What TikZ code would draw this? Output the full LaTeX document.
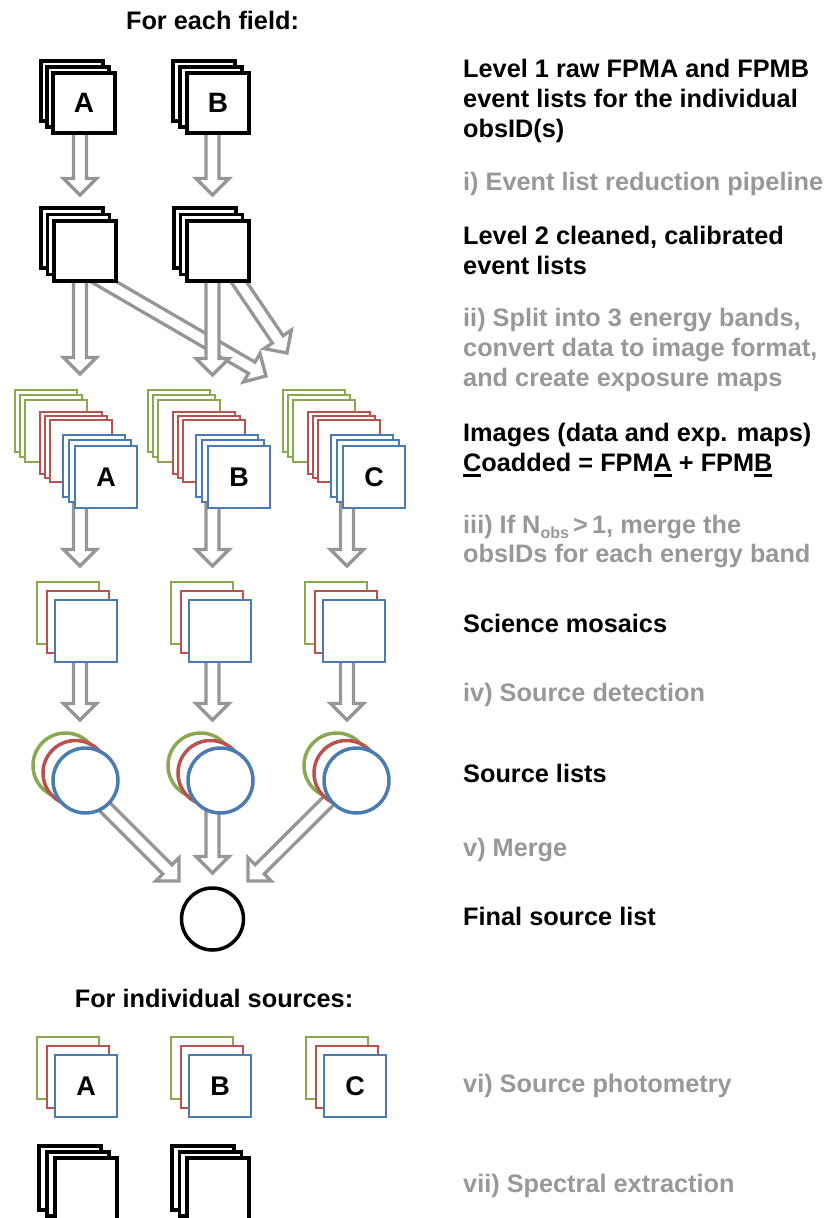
\documentclass[tikz,border=0pt]{standalone}
\usepackage{fontspec}
\setmainfont{Liberation Sans}
\usetikzlibrary{calc,backgrounds}
\definecolor{agray}{RGB}{150,150,150}
\definecolor{tgray}{RGB}{152,152,152}
\definecolor{cgreen}{RGB}{139,168,80}
\definecolor{cred}{RGB}{184,82,78}
\definecolor{cblue}{RGB}{74,124,178}
\newcommand\myul[1]{\setbox0\hbox{#1}\rlap{\rule[-5pt]{\wd0}{2.5pt}}\box0\relax}
\tikzset{
  harr/.style={draw=agray, fill=white, line width=3.3pt, line join=miter, miter limit=10},
  bk/.style={draw=black, fill=white, line width=3.2pt},
  bkfront/.style={bk, rectangle, minimum width=62pt, minimum height=#1, inner sep=0pt, outer sep=0pt,
    font=\bfseries\fontsize{28}{28}\selectfont},
  cs/.style={fill=white, line width=2.8pt},
  csfront/.style={cs, draw=cblue, rectangle, minimum width=62pt, minimum height=62pt, inner sep=0pt, outer sep=0pt,
    font=\bfseries\fontsize{27}{27}\selectfont},
  cc/.style={fill=white, line width=3.5pt},
  ccfront/.style={cc, draw=cblue, circle, minimum size=65pt, inner sep=0pt, outer sep=0pt},
  hd/.style={anchor=base west, inner sep=0pt, font=\bfseries\fontsize{25.3}{30}\selectfont},
  st/.style={hd, text=tgray},
  ttl/.style={anchor=base, inner sep=0pt, font=\bfseries\fontsize{25.3}{30}\selectfont}
}
% hollow arrow from #1 to #2
\newcommand\harrow[2]{%
  \coordinate (hb) at ($(#2)!16.5pt!(#1)$);
  \draw[harr] ($(#1)!6.5pt!90:(#2)$) -- ($(hb)!6.5pt!90:(#2)$) -- ($(hb)!16.5pt!90:(#2)$) -- (#2)
    -- ($(hb)!16.5pt!-90:(#2)$) -- ($(hb)!6.5pt!-90:(#2)$) -- ($(#1)!6.5pt!-90:(#2)$);
}
% black stack: name, front x, front y, label, dx, dy, height
\newcommand\bstack[7]{%
  \draw[bk] (#2-2*#5,#3-2*#6) rectangle ++(62,#7);
  \draw[bk] (#2-#5,#3-#6) rectangle ++(62,#7);
  \node[bkfront=#7pt] (#1) at (#2+31,#3+#7/2) {#4};
}
% image stack (9 squares): name, x0, y0, label
\newcommand\istack[4]{%
  \foreach \dx/\dy/\c in {0/0/cgreen,5/5/cgreen,10/10/cgreen,25/22/cred,30/26/cred,35/30/cred,48/45/cblue,54/50/cblue}
    {\draw[cs,draw=\c] (#2+\dx,#3+\dy) rectangle ++(62,62);}
  \node[csfront] (#1) at (#2+60+31,#3+56+31) {#4};
}
% mosaic stack (3 squares): name, x0, y0, label
\newcommand\mstack[4]{%
  \draw[cs,draw=cgreen] (#2,#3) rectangle ++(62,62);
  \draw[cs,draw=cred] (#2+10,#3+9) rectangle ++(62,62);
  \node[csfront] (#1) at (#2+18+31,#3+18+31) {#4};
}
% circle stack: name, cx, cy
\newcommand\cstack[3]{%
  \draw[cc,draw=cgreen] (#2-20,#3-15) circle[radius=32.5];
  \draw[cc,draw=cred] (#2-10,#3-7.5) circle[radius=32.5];
  \node[ccfront] (#1) at (#2,#3) {};
}
\begin{document}
\begin{tikzpicture}[x=1pt,y=-1pt]
\useasboundingbox (0,0) rectangle (830,1218);

% ---------- stacks ----------
\bstack{L1A}{53}{73}{A}{6}{6}{60}
\bstack{L1B}{187}{73}{B}{7}{6}{60}
\bstack{L2A}{54}{221}{}{6.5}{6.5}{60}
\bstack{L2B}{187}{221}{}{6.5}{6.5}{60}
\istack{IA}{15}{390}{A}
\istack{IB}{148}{390}{B}
\istack{IC}{283}{390}{C}
\mstack{MA}{37}{582}{}
\mstack{MB}{171}{582}{}
\mstack{MC}{305}{582}{}
\cstack{CA}{85.5}{780.5}
\cstack{CB}{220.5}{780.5}
\cstack{CC}{356.5}{780.5}
\node[cc, draw=black, circle, minimum size=62pt, inner sep=0pt] (F) at (212.5,919) {};
\mstack{PA}{37}{1037}{A}
\mstack{PB}{171}{1037}{B}
\mstack{PC}{306}{1037}{C}
\bstack{SA}{55}{1158}{}{8}{6}{64}
\bstack{SB}{187}{1158}{}{7.5}{6}{64}

% ---------- connectors ----------
\coordinate (colA) at (80,0);
\coordinate (colB) at (212.5,0);
\coordinate (colC) at (347,0);
\coordinate (t1A) at (80,195);
\coordinate (t1B) at (212.5,195);
\coordinate (dA) at ($(L2A.center)+(2,21)$);
\coordinate (dB) at ($(L2B.center)+(10,15)$);
\coordinate (t2DA) at (266,376);
\coordinate (t2DB) at (287,353);
\coordinate (t2A) at (80,374);
\coordinate (t2B) at (212.5,375);
\coordinate (t3A) at (80,566);
\coordinate (t3B) at (212.5,566);
\coordinate (t3C) at (347,566);
\coordinate (t4A) at (80,720);
\coordinate (t4B) at (212.5,720);
\coordinate (t4C) at (347,720);
\coordinate (cAs) at ($(CA.center)+(-0.5,6.5)$);
\coordinate (cCs) at ($(CC.center)+(-4.5,-3)$);
\coordinate (t5A) at (179,881);
\coordinate (t5B) at (212.5,873);
\coordinate (t5C) at (248,881);
\begin{scope}[on background layer]
  \harrow{colA |- L1A.center}{t1A}
  \harrow{colB |- L1B.center}{t1B}
  \harrow{dA}{t2DA}
  \harrow{dB}{t2DB}
  \harrow{colA |- L2A.center}{t2A}
  \harrow{colB |- L2B.center}{t2B}
  \harrow{colA |- IA.center}{t3A}
  \harrow{colB |- IB.center}{t3B}
  \harrow{colC |- IC.center}{t3C}
  \harrow{colA |- MA.center}{t4A}
  \harrow{colB |- MB.center}{t4B}
  \harrow{colC |- MC.center}{t4C}
  \harrow{cAs}{t5A}
  \harrow{colB |- CB.center}{t5B}
  \harrow{cCs}{t5C}
\end{scope}

% ---------- texts ----------
\node[ttl] (h1) at (212.5,29) {For each field:};
\node[hd] (l1a) at (463,77) {Level 1 raw FPMA and FPMB};
\node[hd] (l1b) at (463,107) {event lists for the individual};
\node[hd] (l1c) at (463,137) {obsID(s)};
\node[st] (s1) at (463,190.7) {i) Event list reduction pipeline};
\node[hd] (l2a) at (463,244.5) {Level 2 cleaned, calibrated};
\node[hd] (l2b) at (463,274.5) {event lists};
\node[st] (s2a) at (463,326) {ii) Split into 3 energy bands,};
\node[st] (s2b) at (463,356) {convert data to image format,};
\node[st] (s2c) at (463,386) {and create exposure maps};
\node[hd] (l3a) at (463,441.3) {Images (data and exp. maps)};
\node[hd] (l3b) at (463,471.5) {\myul{C}oadded = FPM\myul{A} + FPM\myul{B}};
\node[st] (s3a) at (463,533.5) {iii) If N\raisebox{-5pt}{\fontsize{16}{16}\selectfont obs}\,>\,1, merge the};
\node[st] (s3b) at (463,562.8) {obsIDs for each energy band};
\node[hd] (l4) at (463,632) {Science mosaics};
\node[st] (s4) at (463,701) {iv) Source detection};
\node[hd] (l5) at (463,782) {Source lists};
\node[st] (s5) at (463,856) {v) Merge};
\node[hd] (l6) at (463,925) {Final source list};
\node[ttl] (h2) at (214,1007) {For individual sources:};
\node[st] (s6) at (463,1092) {vi) Source photometry};
\node[st] (s7) at (463,1192) {vii) Spectral extraction};
\end{tikzpicture}
\end{document}
